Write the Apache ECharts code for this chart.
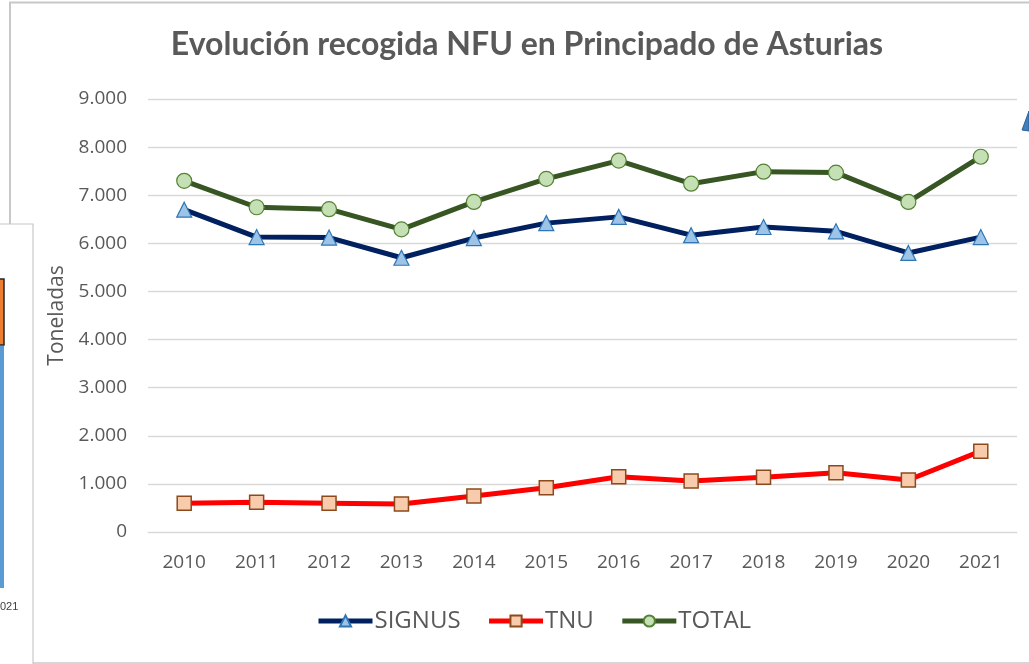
<!DOCTYPE html>
<html>
<head>
<meta charset="utf-8">
<title>Evolución recogida NFU</title>
<script src="https://cdn.jsdelivr.net/npm/echarts@6/dist/echarts.min.js"></script>
<style>
  html, body { margin: 0; padding: 0; background: #fff; }
  #chart { width: 1029px; height: 664px; }
</style>
</head>
<body>
<div id="chart"></div>
<script>
// datos
var years = ["2010", "2011", "2012", "2013", "2014", "2015", "2016", "2017", "2018", "2019", "2020", "2021"];
var signus = [6700, 6130, 6120, 5700, 6110, 6420, 6550, 6170, 6340, 6250, 5800, 6130];
var tnu = [600, 620, 600, 580, 750, 920, 1150, 1060, 1140, 1230, 1080, 1680];
var total = [7300, 6750, 6710, 6290, 6860, 7340, 7720, 7240, 7490, 7470, 6860, 7800];

var titleFont = "Lato, 'Open Sans', sans-serif";
var font = "'Open Sans', Lato, sans-serif";
var gris = "#595959";

function miles(v) {
    return String(v).replace(/\B(?=(\d{3})+(?!\d))/g, ".");
}

var myChart = echarts.init(document.getElementById("chart"));

var option = {
    backgroundColor: "#fff",
    animation: false,
    title: {
        text: "Evolución recogida NFU en Principado de Asturias",
        left: 522,
        textAlign: "center",
        top: 24,
        textStyle: { fontFamily: titleFont, fontSize: 32, fontWeight: "bold", color: gris }
    },
    legend: {
        bottom: 26,
        left: 311,
        itemWidth: 54,
        itemHeight: 14,
        itemGap: 26,
        lineStyle: { width: 5 },
        textStyle: { fontFamily: font, fontSize: 24, color: gris, padding: [0, 0, 0, -3] },
        data: ["SIGNUS", "TNU", "TOTAL"]
    },
    grid: { left: 148, right: 12, top: 99, bottom: 132 },
    xAxis: {
        type: "category",
        data: years,
        axisLine: { lineStyle: { color: "#d9d9d9" } },
        axisTick: { show: false },
        axisLabel: { fontFamily: font, fontSize: 19, color: gris, margin: 21 }
    },
    yAxis: {
        type: "value",
        min: 0,
        max: 9000,
        interval: 1000,
        name: "Toneladas",
        nameLocation: "middle",
        nameGap: 80,
        nameTextStyle: { fontFamily: font, fontSize: 21, color: gris },
        axisLabel: { fontFamily: font, fontSize: 19, color: gris, margin: 21, formatter: miles },
        splitLine: { lineStyle: { color: "#d9d9d9", width: 1.3 } }
    },
    series: [{
        name: "SIGNUS",
        type: "line",
        data: signus,
        symbol: "triangle",
        symbolSize: 15,
        lineStyle: { color: "#002060", width: 5 },
        itemStyle: { color: "#9dc3e6", borderColor: "#2e75b6", borderWidth: 1.2 }
    }, {
        name: "TNU",
        type: "line",
        data: tnu,
        symbol: "rect",
        symbolSize: 14,
        lineStyle: { color: "#ff0000", width: 5 },
        itemStyle: { color: "#f8cbad", borderColor: "#8c4a1c", borderWidth: 1.5 }
    }, {
        name: "TOTAL",
        type: "line",
        data: total,
        symbol: "circle",
        symbolSize: 15,
        lineStyle: { color: "#375623", width: 5 },
        itemStyle: { color: "#c5e0b4", borderColor: "#548235", borderWidth: 1.2 }
    }],
    // restos de la captura: marco y grafico vecino recortado
    graphic: [
        { type: "polyline", shape: { points: [[10, 224], [10, 2.5], [1029, 2.5]] }, style: { stroke: "#c8c8c8", lineWidth: 2, fill: null } },
        { type: "line", shape: { x1: 33, y1: 663, x2: 1029, y2: 663 }, style: { stroke: "#c8c8c8", lineWidth: 1.5 } },
        { type: "rect", shape: { x: -2, y: 224, width: 35, height: 442 }, style: { fill: "#fff", stroke: "#c8c8c8", lineWidth: 1.2 } },
        { type: "rect", shape: { x: -2, y: 279, width: 6, height: 66 }, style: { fill: "#ed7d31", stroke: "#262626", lineWidth: 1.5 } },
        { type: "rect", shape: { x: 0, y: 346, width: 4, height: 242 }, style: { fill: "#5b9bd5" } },
        { type: "text", x: 0, y: 601, style: { text: "021", fontFamily: "'Liberation Sans Narrow', Arial, sans-serif", fontSize: 11, fill: "#404040" } },
        { type: "polygon", shape: { points: [[1022, 130], [1029, 111], [1029, 131]] }, style: { fill: "#3f7fc0", stroke: "#2e5f95", lineWidth: 1 } }
    ]
};

myChart.setOption(option);
</script>
</body>
</html>
